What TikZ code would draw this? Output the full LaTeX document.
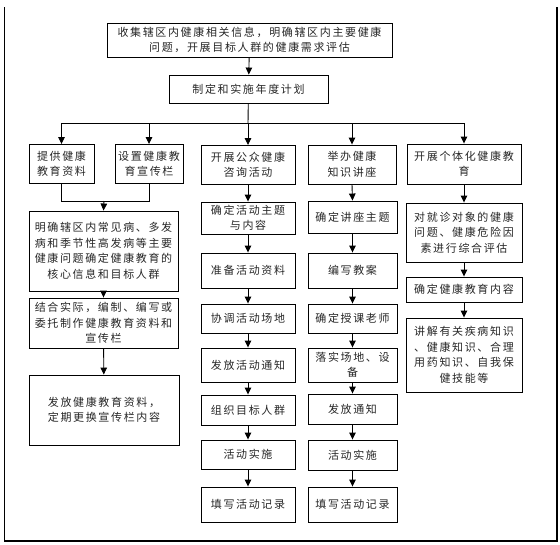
\documentclass[tikz,border=0pt]{standalone}
\usepackage{fontspec}
\newfontfamily\cjk[LetterSpace=15]{Noto Sans CJK SC}
\usetikzlibrary{arrows.meta}
\begin{document}
\begin{tikzpicture}[x=1pt,y=-1pt,
  box/.style={draw, line width=0.9pt, inner sep=0pt, align=center,
    font=\cjk\fontsize{11}{15.5}\selectfont, text=black!85},
  arr/.style={line width=0.9pt, -{Triangle[length=7pt,width=6.5pt]}},
  ln/.style={line width=0.9pt}]
\useasboundingbox (0,0) rectangle (560,544);
\draw[line width=1.1pt] (4.5,7) -- (4.5,541) -- (557,541) -- (557,7);
% top
\node[box, minimum width=285pt, minimum height=34pt] (top) at (249.5,40)
  {收集辖区内健康相关信息，明确辖区内主要健康\\问题，开展目标人群的健康需求评估};
\node[box, minimum width=159pt, minimum height=28pt] (plan) at (248.5,89) {制定和实施年度计划};
% row
\node[box, minimum width=65pt, minimum height=39pt] (A) at (61.5,164) {提供健康\\教育资料};
\node[box, minimum width=68pt, minimum height=39pt] (B) at (149,164) {设置健康教\\育宣传栏};
\node[box, minimum width=94pt, minimum height=39pt] (C) at (248,165) {开展公众健康\\咨询活动};
\node[box, minimum width=88pt, minimum height=39pt] (D) at (352,164.5) {举办健康\\知识讲座};
\node[box, minimum width=114pt, minimum height=40pt] (E) at (464,164) {开展个体化健康教\\育};
% A/B column
\node[box, minimum width=149pt, minimum height=80pt] (AB1) at (103.5,251)
  {明确辖区内常见病、多发\\病和季节性高发病等主要\\健康问题确定健康教育的\\核心信息和目标人群};
\node[box, minimum width=149pt, minimum height=50pt] (AB2) at (103.5,323)
  {结合实际，编制、编写或\\委托制作健康教育资料和\\宣传栏};
\node[box, minimum width=150pt, minimum height=70pt] (AB3) at (104,410)
  {发放健康教育资料，\\定期更换宣传栏内容};
% C column
\node[box, minimum width=94pt, minimum height=32pt] (C1) at (248,218) {确定活动主题\\与内容};
\node[box, minimum width=94pt, minimum height=35pt] (C2) at (248,270.5) {准备活动资料};
\node[box, minimum width=94pt, minimum height=29pt] (C3) at (248,318.5) {协调活动场地};
\node[box, minimum width=94pt, minimum height=34pt] (C4) at (248,365) {发放活动通知};
\node[box, minimum width=94pt, minimum height=30pt] (C5) at (248,410) {组织目标人群};
\node[box, minimum width=94pt, minimum height=29pt] (C6) at (248,454.5) {活动实施};
\node[box, minimum width=94pt, minimum height=35pt] (C7) at (248,504.5) {填写活动记录};
% D column
\node[box, minimum width=89pt, minimum height=32pt] (D1) at (352.5,217) {确定讲座主题};
\node[box, minimum width=89pt, minimum height=35pt] (D2) at (352.5,270.5) {编写教案};
\node[box, minimum width=89pt, minimum height=29pt] (D3) at (352.5,318.5) {确定授课老师};
\node[box, minimum width=89pt, minimum height=34pt] (D4) at (352.5,365) {落实场地、设\\备};
\node[box, minimum width=89pt, minimum height=30pt] (D5) at (352.5,409) {发放通知};
\node[box, minimum width=89pt, minimum height=30pt] (D6) at (352.5,455) {活动实施};
\node[box, minimum width=89pt, minimum height=35pt] (D7) at (352.5,504.5) {填写活动记录};
% E column
\node[box, minimum width=116pt, minimum height=59pt] (E1) at (464,232.5)
  {对就诊对象的健康\\问题、健康危险因\\素进行综合评估};
\node[box, minimum width=116pt, minimum height=25pt] (E2) at (464,289.5) {确定健康教育内容};
\node[box, minimum width=116pt, minimum height=74pt] (E3) at (464,355)
  {讲解有关疾病知识\\、健康知识、合理\\用药知识、自我保\\健技能等};
% connectors
\coordinate (j) at (248,123);
\coordinate (m) at (104,201);
\draw[arr] (top) -- (plan);
\draw[ln] (plan) -- (j);
\draw[arr] (j) -| (A.north);
\draw[arr] (j) -| (B.north);
\draw[arr] (j) -- (C.north);
\draw[arr] (j) -| (D.north);
\draw[arr] (j) -| (E.north);
\draw[ln] (A.south) |- (m);
\draw[ln] (B.south) |- (m);
\draw[arr] (m) -- (AB1.north);
\draw[arr] (AB1) -- (AB2);
\draw[arr] (AB2) -- (AB3);
\draw[arr] (C) -- (C1);
\draw[arr] (C1) -- (C2);
\draw[arr] (C2) -- (C3);
\draw[arr] (C3) -- (C4);
\draw[arr] (C4) -- (C5);
\draw[arr] (C5) -- (C6);
\draw[arr] (C6) -- (C7);
\draw[arr] (D.south) -- (D1.north);
\draw[arr] (D1) -- (D2);
\draw[arr] (D2) -- (D3);
\draw[arr] (D3) -- (D4);
\draw[arr] (D4) -- (D5);
\draw[arr] (D5) -- (D6);
\draw[arr] (D6) -- (D7);
\draw[arr] (E) -- (E1);
\draw[arr] (E1) -- (E2);
\draw[arr] (E2) -- (E3);
\end{tikzpicture}
\end{document}
